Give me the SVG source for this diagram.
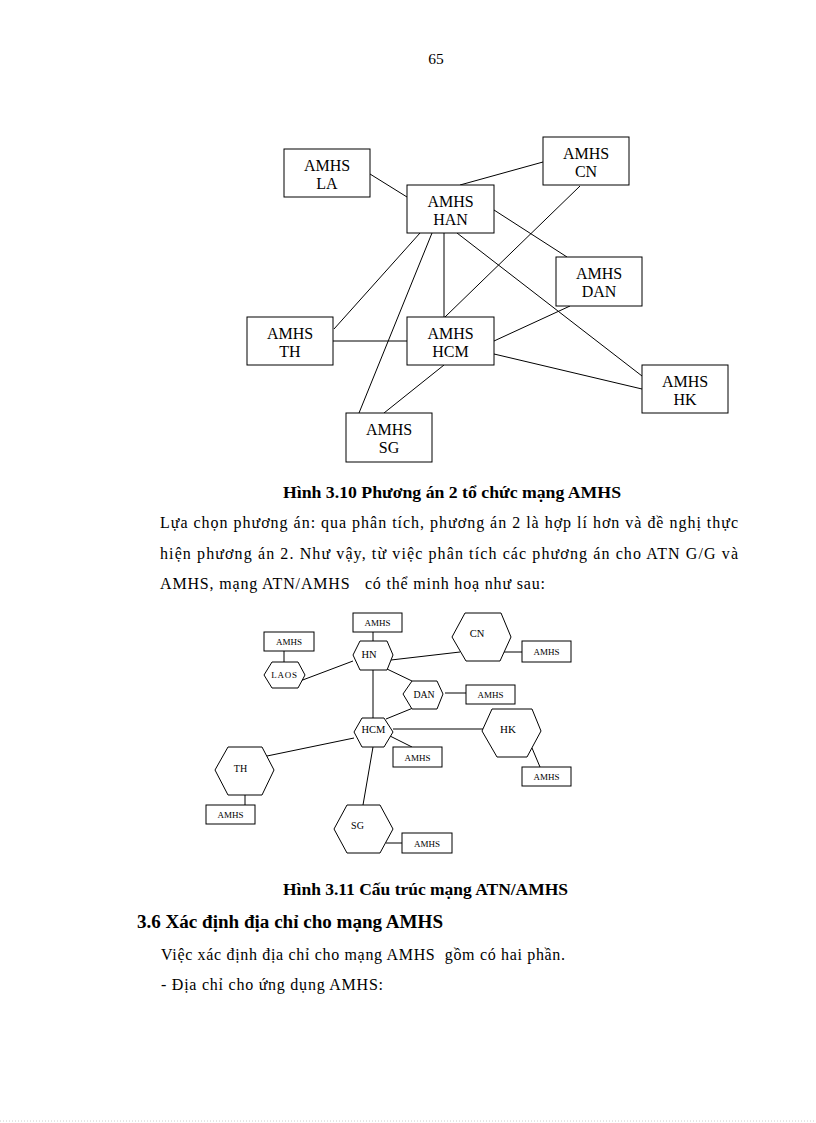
<svg xmlns="http://www.w3.org/2000/svg" width="816" height="1123" viewBox="0 0 816 1123">
<style>
.bg{fill:#fff}
.box{fill:#fff;stroke:#000;stroke-width:1}
.hex{fill:#fff;stroke:#000;stroke-width:1}
.ln{stroke:#000;stroke-width:1;fill:none}
.t{font-family:"Liberation Serif","Times New Roman",serif;fill:#000}
.lbl{font-size:16px;text-anchor:middle}
.sm{font-size:9px;text-anchor:middle}
.hx{font-size:10.5px;text-anchor:middle}
.body{font-size:16px}
.cap{font-size:16px;font-weight:bold}
.h2{font-size:18.5px;font-weight:bold}
</style>
<rect class="bg" x="0" y="0" width="816" height="1123"/>
<text class="t" x="436" y="64" font-size="15.5" text-anchor="middle">65</text>

<!-- Figure 3.10 -->
<g id="fig310-connectors">
<line class="ln" x1="370" y1="174" x2="407" y2="197"/>
<line class="ln" x1="460" y1="185" x2="543" y2="162"/>
<line class="ln" x1="420" y1="233" x2="334" y2="329"/>
<line class="ln" x1="432" y1="233" x2="359" y2="413"/>
<line class="ln" x1="444" y1="233" x2="444" y2="317"/>
<line class="ln" x1="457" y1="233" x2="642" y2="376"/>
<line class="ln" x1="494" y1="210" x2="567" y2="257"/>
<line class="ln" x1="580" y1="186" x2="445" y2="317"/>
<line class="ln" x1="333" y1="341" x2="407" y2="341"/>
<line class="ln" x1="384" y1="413" x2="444" y2="365"/>
<line class="ln" x1="494" y1="341" x2="570" y2="306"/>
<line class="ln" x1="494" y1="354" x2="642" y2="389"/>
</g>
<g id="n-la"><rect class="box" x="284" y="149" width="86" height="48"/><text class="t lbl" x="327" y="171">AMHS</text><text class="t lbl" x="327" y="189">LA</text></g>
<g id="n-han"><rect class="box" x="407" y="185" width="87" height="48"/><text class="t lbl" x="450.5" y="207">AMHS</text><text class="t lbl" x="450.5" y="225">HAN</text></g>
<g id="n-cn"><rect class="box" x="543" y="137" width="86" height="48"/><text class="t lbl" x="586" y="159">AMHS</text><text class="t lbl" x="586" y="177">CN</text></g>
<g id="n-dan"><rect class="box" x="556" y="257" width="86" height="49"/><text class="t lbl" x="599" y="279">AMHS</text><text class="t lbl" x="599" y="297">DAN</text></g>
<g id="n-th"><rect class="box" x="247" y="317" width="86" height="48"/><text class="t lbl" x="290" y="339">AMHS</text><text class="t lbl" x="290" y="357">TH</text></g>
<g id="n-hcm"><rect class="box" x="407" y="317" width="87" height="48"/><text class="t lbl" x="450.5" y="339">AMHS</text><text class="t lbl" x="450.5" y="357">HCM</text></g>
<g id="n-hk"><rect class="box" x="642" y="365" width="86" height="48"/><text class="t lbl" x="685" y="387">AMHS</text><text class="t lbl" x="685" y="405">HK</text></g>
<g id="n-sg"><rect class="box" x="346" y="413" width="86" height="49"/><text class="t lbl" x="389" y="435">AMHS</text><text class="t lbl" x="389" y="453">SG</text></g>

<text class="t cap" x="283" y="498" textLength="338" lengthAdjust="spacingAndGlyphs">Hình 3.10 Phương án 2 tổ chức mạng AMHS</text>
<text class="t body" x="160" y="528" textLength="578" lengthAdjust="spacing">Lựa chọn phương  án: qua phân tích, phương  án 2 là hợp  lí hơn và đề nghị  thực</text>
<text class="t body" x="160" y="559" textLength="578" lengthAdjust="spacing">hiện phương án 2. Như vậy, từ việc phân tích các phương  án cho ATN  G/G và</text>
<text class="t body" x="160" y="589" textLength="385" lengthAdjust="spacing" xml:space="preserve">AMHS, mạng ATN/AMHS   có thể minh hoạ như sau:</text>

<!-- Figure 3.11 -->
<g id="fig311-connectors">
<line class="ln" x1="284" y1="651" x2="284" y2="662"/>
<line class="ln" x1="373" y1="632" x2="373" y2="641"/>
<line class="ln" x1="300" y1="681" x2="353" y2="661"/>
<line class="ln" x1="373" y1="670" x2="373" y2="718"/>
<line class="ln" x1="391" y1="660" x2="460" y2="652"/>
<line class="ln" x1="502" y1="652" x2="522" y2="652"/>
<line class="ln" x1="387" y1="669" x2="412" y2="681"/>
<line class="ln" x1="445" y1="693" x2="466" y2="693"/>
<line class="ln" x1="386" y1="719" x2="413" y2="708"/>
<line class="ln" x1="393" y1="729" x2="483" y2="729"/>
<line class="ln" x1="532" y1="748" x2="540" y2="767"/>
<line class="ln" x1="390" y1="736" x2="412" y2="747"/>
<line class="ln" x1="267" y1="756" x2="354" y2="738"/>
<line class="ln" x1="373" y1="747" x2="363" y2="805"/>
<line class="ln" x1="245" y1="795" x2="245" y2="805"/>
<line class="ln" x1="386" y1="843" x2="402" y2="843"/>
</g>
<g id="h-laos"><polygon class="hex" points="264,675 272,662 298,662 305,675 298,688 272,688"/><text class="t" x="284.5" y="678" font-size="9" text-anchor="middle" letter-spacing="0.8">LAOS</text></g>
<g id="b-laos"><rect class="box" x="264" y="632" width="50" height="19"/><text class="t sm" x="289" y="645">AMHS</text></g>
<g id="h-hn"><polygon class="hex" points="353,655 360,641 387,641 393,655 387,670 360,670"/><text class="t hx" x="369" y="658">HN</text></g>
<g id="b-hn"><rect class="box" x="353" y="613" width="49" height="19"/><text class="t sm" x="377.5" y="626">AMHS</text></g>
<g id="h-cn"><polygon class="hex" points="452,637 465,613 501,613 511,637 500,661 466,661"/><text class="t hx" x="477" y="637">CN</text></g>
<g id="b-cn"><rect class="box" x="522" y="641" width="49" height="21"/><text class="t sm" x="546.5" y="655">AMHS</text></g>
<g id="h-dan"><polygon class="hex" points="403,694 412,681 437,681 443,694 437,709 412,709"/><text class="t" x="424" y="698" font-size="9.8" text-anchor="middle">DAN</text></g>
<g id="b-dan"><rect class="box" x="466" y="685" width="49" height="19"/><text class="t sm" x="490.5" y="698">AMHS</text></g>
<g id="h-hcm"><polygon class="hex" points="354,732 362,718 384,718 393,732 384,747 362,747"/><text class="t" x="373.5" y="733" font-size="10.5" text-anchor="middle">HCM</text></g>
<g id="b-hcm"><rect class="box" x="393" y="747" width="49" height="20"/><text class="t sm" x="417.5" y="761">AMHS</text></g>
<g id="h-hk"><polygon class="hex" points="482,731 492,709 532,709 541,731 527,757 497,757"/><text class="t" x="508" y="733" font-size="11" text-anchor="middle">HK</text></g>
<g id="b-hk"><rect class="box" x="522" y="767" width="49" height="19"/><text class="t sm" x="546.5" y="780">AMHS</text></g>
<g id="h-th"><polygon class="hex" points="215,770 228,747 262,747 274,770 262,795 228,795"/><text class="t" x="240.5" y="772" font-size="10" text-anchor="middle">TH</text></g>
<g id="b-th"><rect class="box" x="206" y="805" width="49" height="19"/><text class="t sm" x="230.5" y="818">AMHS</text></g>
<g id="h-sg"><polygon class="hex" points="334,829 347,805 380,805 393,829 380,853 347,853"/><text class="t" x="357.5" y="829" font-size="10" text-anchor="middle">SG</text></g>
<g id="b-sg"><rect class="box" x="402" y="833" width="50" height="20"/><text class="t sm" x="427" y="847">AMHS</text></g>

<text class="t cap" x="283" y="895" textLength="285" lengthAdjust="spacingAndGlyphs">Hình 3.11 Cấu trúc mạng ATN/AMHS</text>
<text class="t h2" x="137" y="928" textLength="306" lengthAdjust="spacingAndGlyphs">3.6 Xác định địa chỉ cho mạng AMHS</text>
<text class="t body" x="161" y="960" textLength="404" lengthAdjust="spacing" xml:space="preserve">Việc xác định địa chỉ cho mạng AMHS  gồm có hai phần.</text>
<text class="t body" x="161" y="990" textLength="222" lengthAdjust="spacing">- Địa chỉ cho ứng dụng AMHS:</text>
<line x1="0" y1="1121" x2="816" y2="1121" stroke="#ccc" stroke-width="1" stroke-dasharray="1,2"/>
</svg>
